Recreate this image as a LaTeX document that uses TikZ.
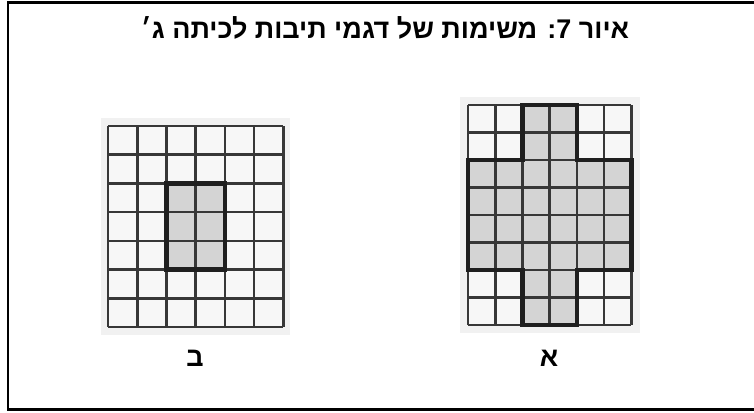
\documentclass[tikz,border=0pt]{standalone}
\usepackage{fontspec}
\setmainfont{Liberation Serif}
\newfontfamily\hebfont[Script=Hebrew]{Liberation Sans Bold}
\TeXXeTstate=1
\definecolor{gridgray}{RGB}{55,55,55}
\definecolor{cellwhite}{RGB}{247,247,247}
\definecolor{cellshade}{RGB}{212,212,212}
\definecolor{paper}{RGB}{241,241,241}
\tikzset{
  gridline/.style={draw=gridgray,line width=2.6pt},
  outline/.style={draw=black!88,line width=4.6pt,line join=miter},
  frameline/.style={draw=black,line width=2.2pt},
  titletext/.style={font=\hebfont\fontsize{27}{32}\selectfont,text=black,inner sep=0pt,anchor=base},
  labeltext/.style={font=\hebfont\fontsize{27}{32}\selectfont,text=black,inner sep=0pt,anchor=base}
}
\begin{document}
\begin{tikzpicture}[x=1pt,y=-1pt]
\useasboundingbox (0,0) rectangle (754,412);
\fill[white] (0,0) rectangle (754,412);
% frame
\draw[frameline] (754,2.5) -- (8,2.5) -- (8,409.5) -- (754,409.5);
% grid B (left)
\fill[paper] (101,118) rectangle (290,335);
\begin{scope}[shift={(108,126)},x=29.2pt,y=-28.7pt]
  \fill[cellwhite] (0,0) rectangle (6,7);
  \fill[cellshade] (2,2) rectangle (4,5);
  \foreach \i in {0,...,6} \draw[gridline] (\i,0) -- (\i,7);
  \foreach \j in {0,...,7} \draw[gridline] (0,\j) -- (6,\j);
  \draw[outline] (2,2) rectangle (4,5);
\end{scope}
% grid A (right)
\fill[paper] (460,97) rectangle (640,333);
\begin{scope}[shift={(468,105)},x=27.2pt,y=-27.5pt]
  \fill[cellwhite] (0,0) rectangle (6,8);
  \fill[cellshade] (2,0) rectangle (4,8);
  \fill[cellshade] (0,2) rectangle (6,6);
  \foreach \i in {0,...,6} \draw[gridline] (\i,0) -- (\i,8);
  \foreach \j in {0,...,8} \draw[gridline] (0,\j) -- (6,\j);
  \draw[outline] (2,0) -- (4,0) -- (4,2) -- (6,2) -- (6,6) -- (4,6) -- (4,8)
     -- (2,8) -- (2,6) -- (0,6) -- (0,2) -- (2,2) -- cycle;
\end{scope}
% title and labels
\node[titletext] (title) at (385,38) {\beginR איור 7: משימות של דגמי תיבות לכיתה ג׳\endR};
\node[labeltext] (labB) at (195,366.5) {\beginR ב\endR};
\node[labeltext] (labA) at (549,366.5) {\beginR א\endR};
\end{tikzpicture}
\end{document}
